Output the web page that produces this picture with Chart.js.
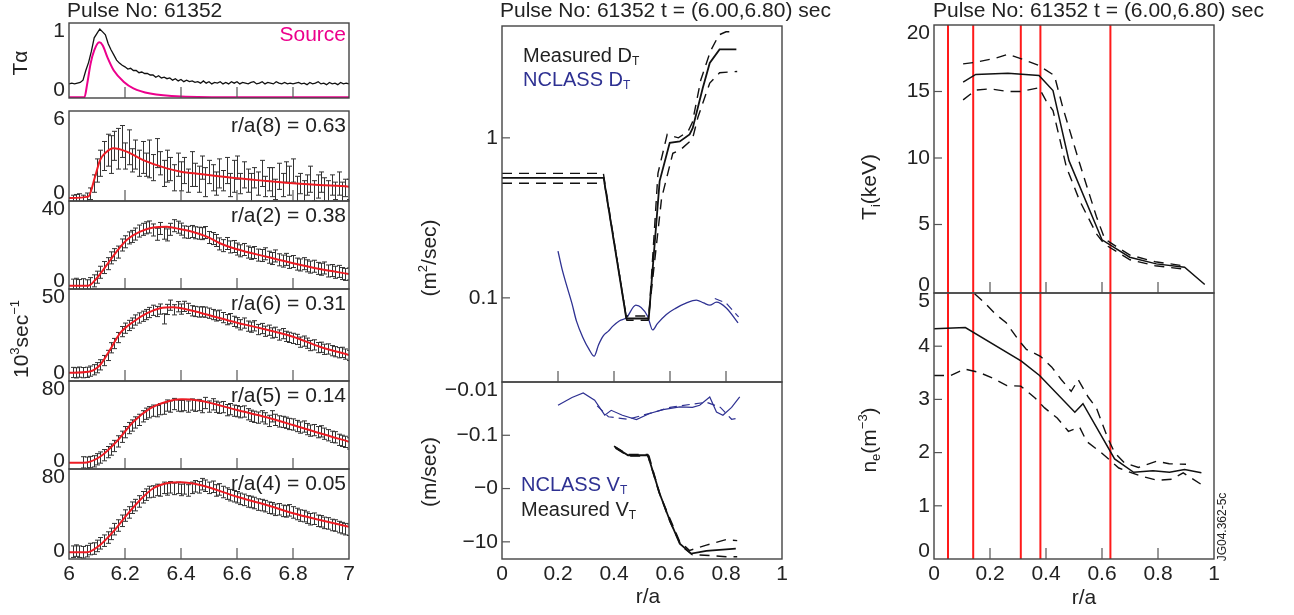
<!DOCTYPE html>
<html>
<head>
<meta charset="utf-8">
<script src="https://cdn.jsdelivr.net/npm/chart.js@4.4.1/dist/chart.umd.min.js"></script>
<style>
body { margin: 0; background: #fff; width: 1294px; height: 615px; overflow: hidden; position: relative; }
canvas { position: absolute; left: 0; top: 0; }
</style>
</head>
<body>
<script>
// ---- left column: T-alpha and neutron rates ----
const tauTimes = [
  6.00,6.01,6.02,6.03,6.04,6.05,6.06,6.07,6.08,6.09,
  6.10,6.11,6.12,6.13,6.14,6.15,6.16,6.17,6.18,6.19,
  6.20,6.21,6.22,6.23,6.24,6.25,6.26,6.27,6.28,6.29,
  6.30,6.31,6.32,6.33,6.34,6.35,6.36,6.37,6.38,6.39,
  6.40,6.41,6.42,6.43,6.44,6.45,6.46,6.47,6.48,6.49,
  6.50,6.51,6.52,6.53,6.54,6.55,6.56,6.57,6.58,6.59,
  6.60,6.61,6.62,6.63,6.64,6.65,6.66,6.67,6.68,6.69,
  6.70,6.71,6.72,6.73,6.74,6.75,6.76,6.77,6.78,6.79,
  6.80,6.81,6.82,6.83,6.84,6.85,6.86,6.87,6.88,6.89,
  6.90,6.91,6.92,6.93,6.94,6.95,6.96,6.97,6.98,6.99,7.00];
const tauSignal = [
  0.18,0.19,0.18,0.19,0.20,0.23,0.36,0.47,0.62,0.80,
  0.86,0.92,0.88,0.84,0.72,0.64,0.57,0.50,0.46,0.43,
  0.41,0.38,0.39,0.36,0.36,0.33,0.34,0.32,0.32,0.30,
  0.30,0.27,0.29,0.26,0.27,0.25,0.26,0.23,0.25,0.22,
  0.24,0.21,0.23,0.21,0.22,0.20,0.21,0.19,0.22,0.19,
  0.21,0.18,0.20,0.19,0.21,0.18,0.20,0.18,0.21,0.19,
  0.21,0.18,0.20,0.19,0.18,0.20,0.21,0.18,0.19,0.21,
  0.18,0.20,0.19,0.18,0.21,0.19,0.18,0.20,0.18,0.19,
  0.18,0.19,0.20,0.18,0.19,0.17,0.20,0.18,0.19,0.21,
  0.18,0.19,0.17,0.20,0.18,0.19,0.17,0.20,0.18,0.19,0.18];
const sourceTimes  = [6.0, 6.055, 6.065, 6.077, 6.09, 6.108, 6.12, 6.137, 6.16, 6.195, 6.23, 6.29, 6.4, 6.6, 7.0];
const sourceValues = [0.0, 0.0, 0.18, 0.45, 0.63, 0.74, 0.70, 0.54, 0.36, 0.21, 0.12, 0.05, 0.01, 0.0, 0.0];

const measTimes = [
  6.0125,6.025,6.0375,6.05,6.0625,6.075,6.0875,6.1,6.1125,6.125,
  6.1375,6.15,6.1625,6.175,6.1875,6.2,6.2125,6.225,6.2375,6.25,
  6.2625,6.275,6.2875,6.3,6.3125,6.325,6.3375,6.35,6.3625,6.375,
  6.3875,6.4,6.4125,6.425,6.4375,6.45,6.4625,6.475,6.4875,6.5,
  6.5125,6.525,6.5375,6.55,6.5625,6.575,6.5875,6.6,6.6125,6.625,
  6.6375,6.65,6.6625,6.675,6.6875,6.7,6.7125,6.725,6.7375,6.75,
  6.7625,6.775,6.7875,6.8,6.8125,6.825,6.8375,6.85,6.8625,6.875,
  6.8875,6.9,6.9125,6.925,6.9375,6.95,6.9625,6.975,6.9875,7.0];
const rate8 = [
  -0.1,-0.05,0.0,-0.1,0.05,0.3,1.0,1.9,2.4,2.9,
  3.3,3.0,3.6,3.4,3.9,2.9,3.5,2.6,3.0,2.4,
  2.8,2.3,2.7,2.1,3.1,2.4,1.7,2.2,2.0,1.4,
  2.3,1.5,1.9,1.2,2.0,1.6,1.3,2.1,1.1,1.8,
  1.4,1.0,1.7,1.2,1.9,0.9,1.5,2.1,1.0,1.6,
  1.2,0.7,1.4,1.0,1.7,0.8,1.3,1.1,0.6,1.5,
  0.9,1.8,1.2,1.9,0.6,1.0,0.4,0.9,1.3,0.5,
  0.8,1.1,0.6,0.3,0.9,0.5,1.0,0.4,0.7,0.6];
const err8 = [
  0.3,0.3,0.3,0.3,0.3,0.4,0.6,0.8,0.9,1.0,
  1.1,1.3,1.0,1.4,1.1,0.9,1.2,0.8,1.0,0.9,
  1.1,0.8,1.3,0.9,1.0,0.8,0.9,1.1,0.8,0.9,
  0.8,1.0,0.9,0.8,1.2,0.8,0.9,0.8,1.0,0.8,
  0.9,0.8,1.0,0.7,0.9,0.8,1.1,0.8,0.7,0.9,
  0.8,1.0,0.7,0.8,0.9,0.7,0.8,1.0,0.7,0.9,
  0.8,0.7,1.0,0.8,0.9,0.7,0.8,0.7,0.9,0.7,
  0.8,0.7,0.8,0.9,0.7,0.6,0.8,0.7,0.6,0.7];
const rate2 = [
  0.8,1.2,0.6,1.0,0.5,1.5,2.8,4.5,6.8,9.0,
  10.8,13.5,15.0,16.2,19.5,21.0,22.8,23.5,24.6,26.0,
  26.8,27.5,27.9,26.5,24.5,27.2,25.0,24.2,26.8,28.5,
  27.8,26.9,25.6,25.4,25.8,25.2,25.0,24.8,25.3,23.0,
  22.5,21.6,20.0,19.2,20.2,18.6,18.8,17.6,16.8,17.4,
  16.2,15.6,16.0,14.8,14.6,15.4,13.8,13.2,14.4,12.6,
  12.0,12.8,11.4,11.8,10.6,10.2,10.8,9.8,9.2,9.6,
  8.6,8.2,8.8,7.4,7.6,6.8,7.2,6.2,5.8,6.0];
const rate6 = [
  1.0,0.8,1.2,0.9,1.1,1.8,2.6,3.8,5.5,8.0,
  11.0,15.5,18.0,21.5,25.0,27.0,28.6,30.0,31.8,33.0,
  34.0,35.0,36.2,37.5,36.8,38.2,32.5,38.0,40.5,37.8,
  39.6,38.2,39.8,38.6,37.2,36.8,36.5,36.6,36.4,35.8,
  35.0,34.2,34.6,33.2,32.0,32.6,31.0,30.2,29.0,30.0,
  28.2,27.6,28.4,26.2,26.8,25.2,25.8,24.2,24.6,23.0,
  23.8,22.2,21.6,21.0,20.4,18.8,19.4,18.2,16.8,17.2,
  15.6,15.8,14.6,14.8,13.8,13.2,12.6,12.8,11.8,11.0];
const rate5 = [
  null,null,null,0.5,0.2,0.8,1.5,3.5,5.2,7.5,
  10.5,13.0,16.5,21.0,25.5,30.0,34.0,36.5,39.5,42.0,
  45.5,48.0,49.5,51.0,50.5,52.5,53.0,56.0,55.0,57.5,
  56.0,55.5,56.5,55.0,57.0,55.8,56.5,54.5,58.5,55.0,
  57.2,54.8,53.8,54.5,51.5,52.5,51.0,50.5,49.5,50.2,
  47.5,46.0,45.0,44.2,45.5,43.5,41.0,45.5,42.0,40.5,
  40.0,39.2,38.0,37.5,36.0,34.5,35.5,33.0,31.5,32.0,
  30.0,30.8,28.5,27.0,25.5,25.0,22.5,21.5,20.5,19.0];
const rate4 = [
  1.0,2.0,1.0,0.5,1.5,3.5,4.0,6.5,9.0,11.5,
  14.5,18.0,22.5,26.0,30.5,35.5,38.5,43.0,45.5,49.0,
  53.0,55.5,58.0,58.5,60.0,59.5,62.0,60.5,62.5,61.0,
  62.0,60.0,61.5,59.5,62.0,63.5,62.5,65.5,64.0,62.0,
  63.0,59.5,60.5,58.0,56.5,55.0,54.0,53.0,51.5,50.5,
  49.0,48.5,47.5,46.0,45.5,44.5,43.0,42.5,41.0,41.5,
  40.0,39.5,40.5,38.5,37.0,35.5,35.0,33.5,32.0,32.5,
  30.5,30.0,28.5,28.0,26.5,26.0,24.5,23.5,22.5,22.0];
const rateErr = [err8, 2.8, 3.0, 5.5, 5.5];

// red fits [time, rate]
const fit8 = [[6.0,0],[6.069,0.1],[6.093,1.47],[6.111,2.62],[6.135,3.2],[6.158,3.43],[6.206,3.2],[6.265,2.62],[6.349,2.05],[6.4,1.82],[6.468,1.66],[6.6,1.36],[6.706,1.18],[6.8,1.02],[7.0,0.79]];
const fit2 = [[6.0,0.54],[6.069,0.54],[6.099,4.0],[6.135,10.2],[6.17,16.4],[6.206,21.8],[6.254,25.7],[6.301,27.7],[6.349,28.0],[6.4,26.8],[6.44,25.7],[6.492,23.4],[6.539,20.3],[6.6,17.5],[6.706,14.0],[6.8,11.0],[6.896,8.3],[7.0,6.0]];
const fit6 = [[6.0,0.87],[6.07,1.46],[6.111,5.4],[6.146,14.2],[6.182,24],[6.23,30.8],[6.277,35.7],[6.325,38.7],[6.372,39.3],[6.4,38.7],[6.468,36.1],[6.6,30.2],[6.66,27.9],[6.8,22.0],[6.896,16.1],[7.0,11.3]];
const fit5 = [[6.0,0],[6.05,0],[6.111,6.0],[6.17,20.7],[6.23,40.2],[6.29,53.3],[6.349,59.8],[6.4,62.1],[6.468,60.7],[6.6,51.6],[6.706,44.5],[6.8,37],[6.896,28.9],[7.0,20.7]];
const fit4 = [[6.0,0.4],[6.064,0.4],[6.111,7.4],[6.158,20.1],[6.206,36],[6.254,50.4],[6.301,61.6],[6.349,66.3],[6.4,67.3],[6.468,64.7],[6.6,53.5],[6.706,45.6],[6.8,37.7],[6.896,31.3],[7.0,24.9]];

const channelLabels = ['r/a(8) = 0.63', 'r/a(2) = 0.38', 'r/a(6) = 0.31', 'r/a(5) = 0.14', 'r/a(4) = 0.05'];
const channelTopLabels = ['6', '40', '50', '80', '80'];
const timeTicks = [6, 6.2, 6.4, 6.6, 6.8, 7];
const timeTickLabels = ['6', '6.2', '6.4', '6.6', '6.8', '7'];

// ---- middle column: diffusion and pinch [r/a, value] ----
const dMeasured = [[0,0.562],[0.363,0.562],[0.444,0.0743],[0.524,0.0743],[0.563,0.537],[0.599,0.93],[0.635,0.95],[0.67,1.05],[0.681,1.15],[0.717,2.05],[0.742,2.94],[0.777,3.57],[0.837,3.57]];
const dMeasuredHi = [[0,0.6],[0.362,0.6],[0.443,0.077],[0.525,0.077],[0.557,0.6],[0.59,1.05],[0.63,1.0],[0.665,1.1],[0.68,1.25],[0.71,2.3],[0.745,3.5],[0.775,4.4],[0.8,4.6],[0.83,4.6]];
const dMeasuredLo = [[0,0.52],[0.366,0.52],[0.446,0.0725],[0.522,0.0725],[0.57,0.42],[0.61,0.8],[0.64,0.85],[0.68,0.98],[0.7,1.35],[0.742,2.2],[0.777,2.55],[0.84,2.6]];
const dNclass = [[0.2,0.196],[0.215,0.15],[0.23,0.121],[0.25,0.092],[0.266,0.0715],[0.29,0.056],[0.31,0.048],[0.329,0.0432],[0.345,0.051],[0.361,0.0577],[0.38,0.062],[0.396,0.0666],[0.42,0.072],[0.444,0.075],[0.478,0.09],[0.52,0.0768],[0.538,0.063],[0.555,0.069],[0.587,0.0788],[0.62,0.086],[0.659,0.093],[0.694,0.0968],[0.72,0.093],[0.742,0.09],[0.766,0.094],[0.801,0.0865],[0.843,0.0698]];
const dNclassAlt = [[0.76,0.099],[0.80,0.093],[0.845,0.076]];
const vMeasured = [[0.403,-0.166],[0.45,-0.237],[0.521,-0.237],[0.563,-1.24],[0.599,-3.93],[0.635,-10.8],[0.676,-16.6],[0.73,-14.8],[0.835,-13.4]];
const vMeasuredHi = [[0.40,-0.16],[0.45,-0.23],[0.52,-0.23],[0.56,-1.15],[0.60,-3.7],[0.635,-10.0],[0.67,-14.5],[0.73,-11.5],[0.8,-9.1],[0.84,-9.5]];
const vMeasuredLo = [[0.405,-0.175],[0.45,-0.245],[0.525,-0.245],[0.565,-1.35],[0.6,-4.2],[0.64,-12],[0.68,-17.5],[0.74,-18],[0.8,-19],[0.84,-19]];
const vNclass = [[0.2,-0.0274],[0.25,-0.0195],[0.29,-0.0161],[0.331,-0.022],[0.367,-0.042],[0.39,-0.034],[0.43,-0.042],[0.48,-0.0508],[0.527,-0.039],[0.575,-0.033],[0.635,-0.0294],[0.68,-0.03],[0.706,-0.0274],[0.742,-0.0191],[0.766,-0.0366],[0.789,-0.042],[0.82,-0.03],[0.849,-0.019]];
const vNclassAlt = [[0.34,-0.028],[0.38,-0.045],[0.45,-0.05],[0.55,-0.036],[0.6,-0.03],[0.68,-0.026],[0.73,-0.024],[0.78,-0.03],[0.82,-0.05],[0.845,-0.048]];

// ---- right column: profiles [r/a, value] ----
const tiMeas = [[0.104,15.7],[0.149,16.28],[0.264,16.38],[0.375,16.2],[0.425,15.07],[0.482,9.8],[0.6,3.85],[0.699,2.54],[0.794,2.04],[0.895,1.79],[0.967,0.49]];
const tiHi = [[0.104,17.08],[0.149,17.2],[0.22,17.5],[0.264,17.8],[0.32,17.4],[0.375,16.95],[0.43,16.2],[0.46,13.8],[0.52,9.6],[0.58,5.6],[0.61,3.9],[0.7,2.7],[0.79,2.2],[0.89,1.9]];
const tiLo = [[0.104,14.37],[0.149,15.1],[0.2,15.2],[0.264,15.0],[0.31,15.0],[0.375,15.28],[0.40,14.32],[0.425,13.57],[0.473,9.3],[0.52,6.8],[0.58,4.3],[0.61,3.5],[0.7,2.35],[0.79,1.9],[0.89,1.65]];
const neMeas = [[0,4.33],[0.112,4.35],[0.312,3.72],[0.377,3.45],[0.503,2.76],[0.532,2.92],[0.645,1.88],[0.713,1.63],[0.782,1.66],[0.841,1.63],[0.895,1.68],[0.955,1.62]];
const neHi = [[0.1,5.2],[0.142,5.0],[0.18,4.82],[0.22,4.6],[0.258,4.44],[0.3,4.13],[0.33,3.94],[0.38,3.81],[0.42,3.61],[0.455,3.37],[0.49,3.15],[0.515,3.37],[0.55,3.05],[0.58,2.84],[0.6,2.56],[0.62,2.28],[0.645,2.0],[0.68,1.81],[0.73,1.72],[0.795,1.84],[0.84,1.79],[0.9,1.78]];
const neLo = [[0,3.45],[0.06,3.45],[0.11,3.57],[0.16,3.51],[0.21,3.40],[0.26,3.26],[0.31,3.25],[0.36,3.03],[0.395,2.84],[0.44,2.65],[0.48,2.4],[0.52,2.48],[0.545,2.21],[0.595,2.01],[0.66,1.71],[0.69,1.65],[0.745,1.55],[0.797,1.48],[0.85,1.5],[0.89,1.62],[0.955,1.4]];
const channelRadii = [0.05, 0.14, 0.31, 0.38, 0.63];
const radiusTicks = [0, 0.2, 0.4, 0.6, 0.8, 1];
const radiusTickLabels = ['0', '0.2', '0.4', '0.6', '0.8', '1'];

// ---- drawing helpers ----
const W = 1294, H = 615;
const FONT = '"Liberation Sans", Arial, Helvetica, sans-serif';
const INK = '#222';
const BLUE = '#2e3192';
const MAGENTA = '#ec008c';
const RED = '#ed1c24';

const pts = pairs => pairs.map(p => ({ x: p[0], y: p[1] }));
const neg = pairs => pairs.map(p => ({ x: p[0], y: -p[1] }));

function line(data, color, width, dash) {
  return { data, borderColor: color, borderWidth: width, borderDash: dash || [], pointRadius: 0, fill: false, tension: 0 };
}

function drawRich(ctx, o) {
  const size = o.size || 21;
  ctx.save();
  ctx.translate(o.x, o.y);
  if (o.rot) ctx.rotate(-Math.PI / 2);
  ctx.textBaseline = 'middle';
  ctx.textAlign = 'left';
  const parts = o.segs.map(s => {
    const sz = (s.sub || s.sup) ? Math.round(size * 0.62) : size;
    ctx.font = sz + 'px ' + FONT;
    return { s, sz, w: ctx.measureText(s.t).width };
  });
  const total = parts.reduce((a, p) => a + p.w, 0);
  let x = o.align === 'right' ? -total : o.align === 'center' ? -total / 2 : 0;
  parts.forEach(p => {
    ctx.font = p.sz + 'px ' + FONT;
    ctx.fillStyle = o.color || INK;
    const dy = p.s.sub ? size * 0.3 : p.s.sup ? -size * 0.3 : 0;
    ctx.fillText(p.s.t, x, dy);
    x += p.w;
  });
  ctx.restore();
}

function drawErrorBars(chart) {
  const ctx = chart.ctx, a = chart.chartArea, ys = chart.scales.y;
  ctx.save();
  ctx.beginPath();
  ctx.rect(a.left, a.top, a.right - a.left, a.bottom - a.top);
  ctx.clip();
  ctx.strokeStyle = '#333';
  ctx.lineWidth = 1;
  chart.data.datasets.forEach((ds, i) => {
    if (ds.errHalf === undefined) return;
    const meta = chart.getDatasetMeta(i);
    meta.data.forEach((el, j) => {
      const v = ds.data[j].y;
      if (v === null || v === undefined) return;
      const e = Array.isArray(ds.errHalf) ? (ds.errHalf[j] ?? 0.8) : ds.errHalf;
      const x = Math.round(el.x) + 0.5;
      const y1 = ys.getPixelForValue(v - e), y2 = ys.getPixelForValue(v + e);
      ctx.beginPath();
      ctx.moveTo(x, y1); ctx.lineTo(x, y2);
      ctx.moveTo(x - 2.5, y1); ctx.lineTo(x + 2.5, y1);
      ctx.moveTo(x - 2.5, y2); ctx.lineTo(x + 2.5, y2);
      ctx.stroke();
    });
  });
  ctx.restore();
}

function drawDeco(chart, d) {
  const ctx = chart.ctx, a = chart.chartArea, xs = chart.scales.x, ys = chart.scales.y;
  ctx.save();
  ctx.strokeStyle = '#444';
  ctx.lineWidth = 1.4;
  ctx.strokeRect(a.left, a.top, a.right - a.left, a.bottom - a.top);
  ctx.lineWidth = 1.2;
  ctx.strokeStyle = '#555';
  (d.xTicks || []).forEach(v => {
    const x = xs.getPixelForValue(v);
    ctx.beginPath(); ctx.moveTo(x, a.bottom); ctx.lineTo(x, a.bottom - 11); ctx.stroke();
  });
  (d.yTicks || []).forEach(v => {
    const y = ys.getPixelForValue(v);
    ctx.beginPath(); ctx.moveTo(a.left, y); ctx.lineTo(a.left + 8, y); ctx.stroke();
  });
  ctx.fillStyle = INK;
  ctx.font = '21px ' + FONT;
  ctx.textBaseline = 'middle';
  ctx.textAlign = 'right';
  (d.yLabels || []).forEach(([v, t]) => {
    let y = ys.getPixelForValue(v);
    y = Math.min(Math.max(y, a.top + 8), a.bottom - 8);
    ctx.fillText(t, a.left - 4, y);
  });
  ctx.textAlign = 'center';
  (d.xLabels || []).forEach(([v, t]) => ctx.fillText(t, xs.getPixelForValue(v), a.bottom + 15));
  (d.texts || []).forEach(tx => drawRich(ctx, tx));
  ctx.restore();
}

function panel(box, xScale, yScale, datasets, deco) {
  const c = document.createElement('canvas');
  c.width = W; c.height = H;
  document.body.appendChild(c);
  new Chart(c, {
    type: 'line',
    data: { datasets },
    options: {
      responsive: false,
      animation: false,
      events: [],
      layout: { padding: { left: box.x, top: box.y, right: W - box.x - box.w, bottom: H - box.y - box.h } },
      scales: { x: Object.assign({ type: 'linear', display: false }, xScale), y: Object.assign({ display: false }, yScale) },
      plugins: { legend: { display: false }, tooltip: { enabled: false } }
    },
    plugins: [{
      id: 'deco',
      beforeDatasetsDraw: ch => drawErrorBars(ch),
      afterDraw: ch => drawDeco(ch, deco)
    }]
  });
}

// ---- left column ----
const timeX = { min: 6, max: 7 };
const timeTickPairs = timeTicks.map((v, i) => [v, timeTickLabels[i]]);

panel({ x: 69, y: 23, w: 280, h: 75 }, timeX, { type: 'linear', min: -0.01, max: 1 }, [
  line(tauTimes.map((t, i) => ({ x: t, y: tauSignal[i] })), '#111', 1.3),
  Object.assign(line(sourceTimes.map((t, i) => ({ x: t, y: sourceValues[i] })), MAGENTA, 2), { cubicInterpolationMode: 'monotone' })
], {
  xTicks: [6.2, 6.4, 6.6, 6.8],
  yLabels: [[0, '0'], [1, '1']],
  texts: [
    { segs: [{ t: 'Pulse No: 61352' }], x: 67, y: 11, align: 'left' },
    { segs: [{ t: 'Source' }], x: 346, y: 35, align: 'right', color: MAGENTA },
    { segs: [{ t: 'Tα' }], x: 21, y: 63, align: 'center', rot: true }
  ]
});

const leftBoxes = [{ y: 111, h: 90 }, { y: 201, h: 88 }, { y: 289, h: 92 }, { y: 381, h: 88 }, { y: 469, h: 90 }];
const leftRanges = [[-0.2, 6], [-1, 40], [-4, 50], [-6, 80], [-6, 80]];
const rates = [rate8, rate2, rate6, rate5, rate4];
const fits = [fit8, fit2, fit6, fit5, fit4];

rates.forEach((rate, k) => {
  const last = k === rates.length - 1;
  const texts = [{ segs: [{ t: channelLabels[k] }], x: 346, y: leftBoxes[k].y + 15, align: 'right' }];
  if (k === 2) texts.push({ segs: [{ t: '10' }, { t: '3', sup: true }, { t: 'sec' }, { t: '−1', sup: true }], x: 22, y: 339, align: 'center', rot: true });
  panel({ x: 69, y: leftBoxes[k].y, w: 280, h: leftBoxes[k].h }, timeX,
    { type: 'linear', min: leftRanges[k][0], max: leftRanges[k][1] }, [
      Object.assign(line(pts(fits[k]), RED, 2), { cubicInterpolationMode: 'monotone' }),
      { data: measTimes.map((t, i) => ({ x: t, y: rate[i] })), showLine: false, pointRadius: 0, errHalf: rateErr[k] }
    ], {
      xTicks: [6.2, 6.4, 6.6, 6.8],
      yLabels: [[0, '0'], [leftRanges[k][1], channelTopLabels[k]]],
      xLabels: last ? timeTickPairs : [],
      texts
    });
});

// ---- middle column ----
const radX = { min: 0, max: 1 };
const radTickPairs = radiusTicks.map((v, i) => [v, radiusTickLabels[i]]);
const DASH = [10, 7];

panel({ x: 502, y: 26, w: 280, h: 356 }, radX, { type: 'logarithmic', min: 0.0298, max: 5 }, [
  line(pts(dMeasured), '#111', 1.8),
  line(pts(dMeasuredHi), '#111', 1.4, DASH),
  line(pts(dMeasuredLo), '#111', 1.4, DASH),
  Object.assign(line(pts(dNclass), BLUE, 1.3), { cubicInterpolationMode: 'monotone' }),
  line(pts(dNclassAlt), BLUE, 1.2, [8, 5])
], {
  xTicks: [0.2, 0.4, 0.6, 0.8],
  yTicks: [0.1, 1],
  yLabels: [[1, '1'], [0.1, '0.1']],
  texts: [
    { segs: [{ t: 'Pulse No: 61352 t = (6.00,6.80) sec' }], x: 500, y: 11, align: 'left' },
    { segs: [{ t: 'Measured D' }, { t: 'T', sub: true }], x: 523, y: 56, align: 'left', size: 20 },
    { segs: [{ t: 'NCLASS D' }, { t: 'T', sub: true }], x: 523, y: 80, align: 'left', size: 20, color: BLUE },
    { segs: [{ t: '(m' }, { t: '2', sup: true }, { t: '/sec)' }], x: 430, y: 258, align: 'center', rot: true }
  ]
});

panel({ x: 502, y: 382, w: 280, h: 177 }, radX, { type: 'logarithmic', min: 0.01, max: 21, reverse: true }, [
  line(neg(vMeasured), '#111', 1.8),
  line(neg(vMeasuredHi), '#111', 1.4, DASH),
  line(neg(vMeasuredLo), '#111', 1.4, DASH),
  line(neg(vNclass), BLUE, 1.2),
  line(neg(vNclassAlt), BLUE, 1.2, [8, 5])
], {
  yTicks: [0.1, 1, 10],
  yLabels: [[0.01, '−0.01'], [0.1, '−0.1'], [1, '−0'], [10, '−10']],
  xLabels: radTickPairs,
  texts: [
    { segs: [{ t: '(m/sec)' }], x: 430, y: 472, align: 'center', rot: true },
    { segs: [{ t: 'NCLASS V' }, { t: 'T', sub: true }], x: 521, y: 485, align: 'left', size: 20, color: BLUE },
    { segs: [{ t: 'Measured V' }, { t: 'T', sub: true }], x: 521, y: 510, align: 'left', size: 20 },
    { segs: [{ t: 'r/a' }], x: 648, y: 597, align: 'center' }
  ]
});

// ---- right column ----
const redLines = () => channelRadii.map(r => line([{ x: r, y: -100 }, { x: r, y: 100 }], '#ff1a1a', 2));

panel({ x: 934, y: 25, w: 280, h: 268 }, radX, { type: 'linear', min: -0.15, max: 20 }, [
  line(pts(tiMeas), '#111', 1.5),
  line(pts(tiHi), '#111', 1.4, DASH),
  line(pts(tiLo), '#111', 1.4, DASH),
  ...redLines()
], {
  xTicks: [0.2, 0.4, 0.6, 0.8],
  yTicks: [5, 10, 15],
  yLabels: [[20, '20'], [15, '15'], [10, '10'], [5, '5'], [0, '0']],
  texts: [
    { segs: [{ t: 'Pulse No: 61352 t = (6.00,6.80) sec' }], x: 933, y: 11, align: 'left' },
    { segs: [{ t: 'T' }, { t: 'i', sub: true }, { t: '(keV)' }], x: 870, y: 187, align: 'center', rot: true }
  ]
});

panel({ x: 934, y: 293, w: 280, h: 266 }, radX, { type: 'linear', min: 0, max: 5 }, [
  line(pts(neMeas), '#111', 1.5),
  line(pts(neHi), '#111', 1.4, DASH),
  line(pts(neLo), '#111', 1.4, DASH),
  ...redLines()
], {
  xTicks: [0.2, 0.4, 0.6, 0.8],
  yTicks: [1, 2, 3, 4],
  yLabels: [[5, '5'], [4, '4'], [3, '3'], [2, '2'], [1, '1'], [0, '0']],
  xLabels: radTickPairs,
  texts: [
    { segs: [{ t: 'n' }, { t: 'e', sub: true }, { t: '(m' }, { t: '−3', sup: true }, { t: ')' }], x: 870, y: 440, align: 'center', rot: true },
    { segs: [{ t: 'r/a' }], x: 1084, y: 598, align: 'center' },
    { segs: [{ t: 'JG04.362-5c' }], x: 1223, y: 527, align: 'center', rot: true, size: 12 }
  ]
});
</script>
</body>
</html>
